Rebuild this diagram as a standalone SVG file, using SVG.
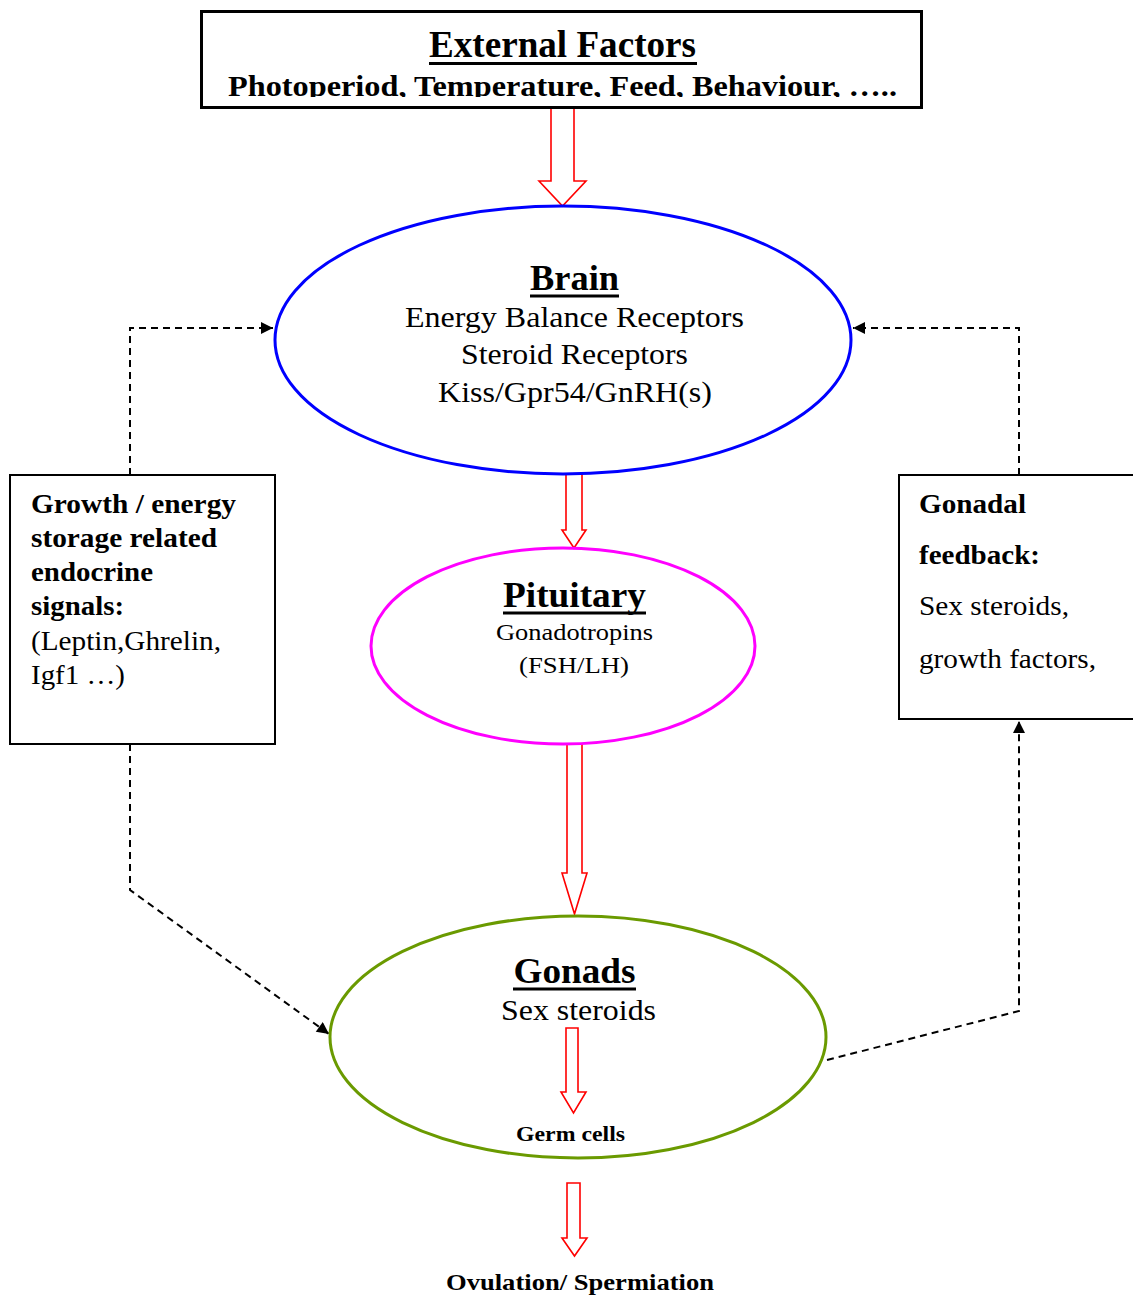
<svg xmlns="http://www.w3.org/2000/svg" width="1133" height="1298" viewBox="0 0 1133 1298">
<style>
text{font-family:'Liberation Serif','Times New Roman',Times,serif;fill:#000}
.b{font-weight:bold}
.c{text-anchor:middle}
.hollow{fill:#fff;stroke:#ff0000;stroke-width:1.6}
.dash{fill:none;stroke:#000;stroke-width:2;stroke-dasharray:7 5}
.box{fill:#fff;stroke:#000;stroke-width:2}
.ul{stroke:#000;stroke-width:3}
</style>
<defs>
<marker id="ah" viewBox="0 0 10 10" refX="10" refY="5" markerWidth="15" markerHeight="12" markerUnits="userSpaceOnUse" orient="auto">
<path d="M0,0 L10,5 L0,10 Z" fill="#000"/>
</marker>
<clipPath id="hdrclip"><rect x="201" y="11" width="721" height="86"/></clipPath>
</defs>
<rect width="1133" height="1298" fill="#fff"/>

<g id="connectors">
<path class="dash" d="M130,475 V328 H273" marker-end="url(#ah)"/>
<path class="dash" d="M1019,475 V328 H853" marker-end="url(#ah)"/>
<path class="dash" d="M130,744 V890 L329,1034" marker-end="url(#ah)"/>
<path class="dash" d="M827,1060 L1019,1011 V721" marker-end="url(#ah)"/>
<polygon class="hollow" points="551,108 574,108 574,181 586,181 562.5,206 539,181 551,181"/>
<polygon class="hollow" points="566,474 582,474 582,530 586,530 574,548 562,530 566,530"/>
<polygon class="hollow" points="567,744 582,744 582,873 587,873 574.5,914 562,873 567,873"/>
<polygon class="hollow" points="567,1183 580,1183 580,1238 587,1238 574.5,1256 562,1238 567,1238"/>
</g>

<g id="external">
<rect x="201.5" y="11.5" width="720" height="96" fill="#fff" stroke="#000" stroke-width="3"/>
<text font-family="Liberation Serif, serif" class="b c" x="562.5" y="57" font-size="38" textLength="267" lengthAdjust="spacingAndGlyphs">External Factors</text>
<line class="ul" x1="429" y1="63.5" x2="697" y2="63.5"/>
<g clip-path="url(#hdrclip)">
<text font-family="Liberation Serif, serif" class="b c" x="562.5" y="96" font-size="29" textLength="669" lengthAdjust="spacingAndGlyphs">Photoperiod, Temperature, Feed, Behaviour, …..</text>
</g>
</g>

<g id="brain" font-family="Liberation Serif, serif">
<ellipse cx="563" cy="340" rx="288" ry="134" fill="none" stroke="#0000ff" stroke-width="3"/>
<text class="b c" x="574.5" y="290" font-size="36" textLength="89" lengthAdjust="spacingAndGlyphs">Brain</text>
<line class="ul" x1="530" y1="296" x2="619" y2="296"/>
<text class="c" x="574.5" y="327" font-size="29" textLength="339" lengthAdjust="spacingAndGlyphs">Energy Balance Receptors</text>
<text class="c" x="574.5" y="364" font-size="29" textLength="227" lengthAdjust="spacingAndGlyphs">Steroid Receptors</text>
<text class="c" x="575" y="402" font-size="29" textLength="274" lengthAdjust="spacingAndGlyphs">Kiss/Gpr54/GnRH(s)</text>
</g>

<g id="pituitary">
<ellipse cx="563" cy="646" rx="192" ry="98" fill="none" stroke="#ff00ff" stroke-width="3"/>
<text class="b c" x="574.5" y="607" font-size="36" textLength="143" lengthAdjust="spacingAndGlyphs">Pituitary</text>
<line class="ul" x1="503" y1="613" x2="646" y2="613"/>
<text class="c" x="574.5" y="640" font-size="23" textLength="157" lengthAdjust="spacingAndGlyphs">Gonadotropins</text>
<text class="c" x="574" y="673" font-size="23" textLength="110" lengthAdjust="spacingAndGlyphs">(FSH/LH)</text>
</g>

<g id="gonads">
<ellipse cx="578" cy="1037" rx="248" ry="121" fill="none" stroke="#6a9a00" stroke-width="3"/>
<text class="b c" x="574.5" y="983" font-size="36" textLength="122" lengthAdjust="spacingAndGlyphs">Gonads</text>
<line class="ul" x1="513" y1="989" x2="636" y2="989"/>
<text class="c" x="578.5" y="1020" font-size="29" textLength="155" lengthAdjust="spacingAndGlyphs">Sex steroids</text>
<polygon class="hollow" points="566,1028 578,1028 578,1092 586,1092 573.5,1113 561,1092 566,1092"/>
<text class="b c" x="570.5" y="1141" font-size="21" textLength="109" lengthAdjust="spacingAndGlyphs">Germ cells</text>
</g>

<g id="output">
<text class="b c" x="580" y="1290" font-size="23" textLength="268" lengthAdjust="spacingAndGlyphs">Ovulation/ Spermiation</text>
</g>

<g id="growth-signals">
<rect class="box" x="10" y="475" width="265" height="269"/>
<text class="b" x="31" y="513" font-size="28" textLength="205" lengthAdjust="spacingAndGlyphs">Growth / energy</text>
<text class="b" x="31" y="547" font-size="28" textLength="186" lengthAdjust="spacingAndGlyphs">storage related</text>
<text class="b" x="31" y="581" font-size="28" textLength="122" lengthAdjust="spacingAndGlyphs">endocrine</text>
<text class="b" x="31" y="615" font-size="28" textLength="93" lengthAdjust="spacingAndGlyphs">signals:</text>
<text x="31" y="650" font-size="28" textLength="190" lengthAdjust="spacingAndGlyphs">(Leptin,Ghrelin,</text>
<text x="31" y="684" font-size="28" textLength="94" lengthAdjust="spacingAndGlyphs">Igf1 …)</text>
</g>

<g id="gonadal-feedback">
<rect class="box" x="899" y="475" width="240" height="244"/>
<text class="b" x="919" y="513" font-size="28" textLength="107" lengthAdjust="spacingAndGlyphs">Gonadal</text>
<text class="b" x="919" y="564" font-size="28" textLength="121" lengthAdjust="spacingAndGlyphs">feedback:</text>
<text x="919" y="615" font-size="28" textLength="150" lengthAdjust="spacingAndGlyphs">Sex steroids,</text>
<text x="919" y="668" font-size="28" textLength="177" lengthAdjust="spacingAndGlyphs">growth factors,</text>
</g>
</svg>
